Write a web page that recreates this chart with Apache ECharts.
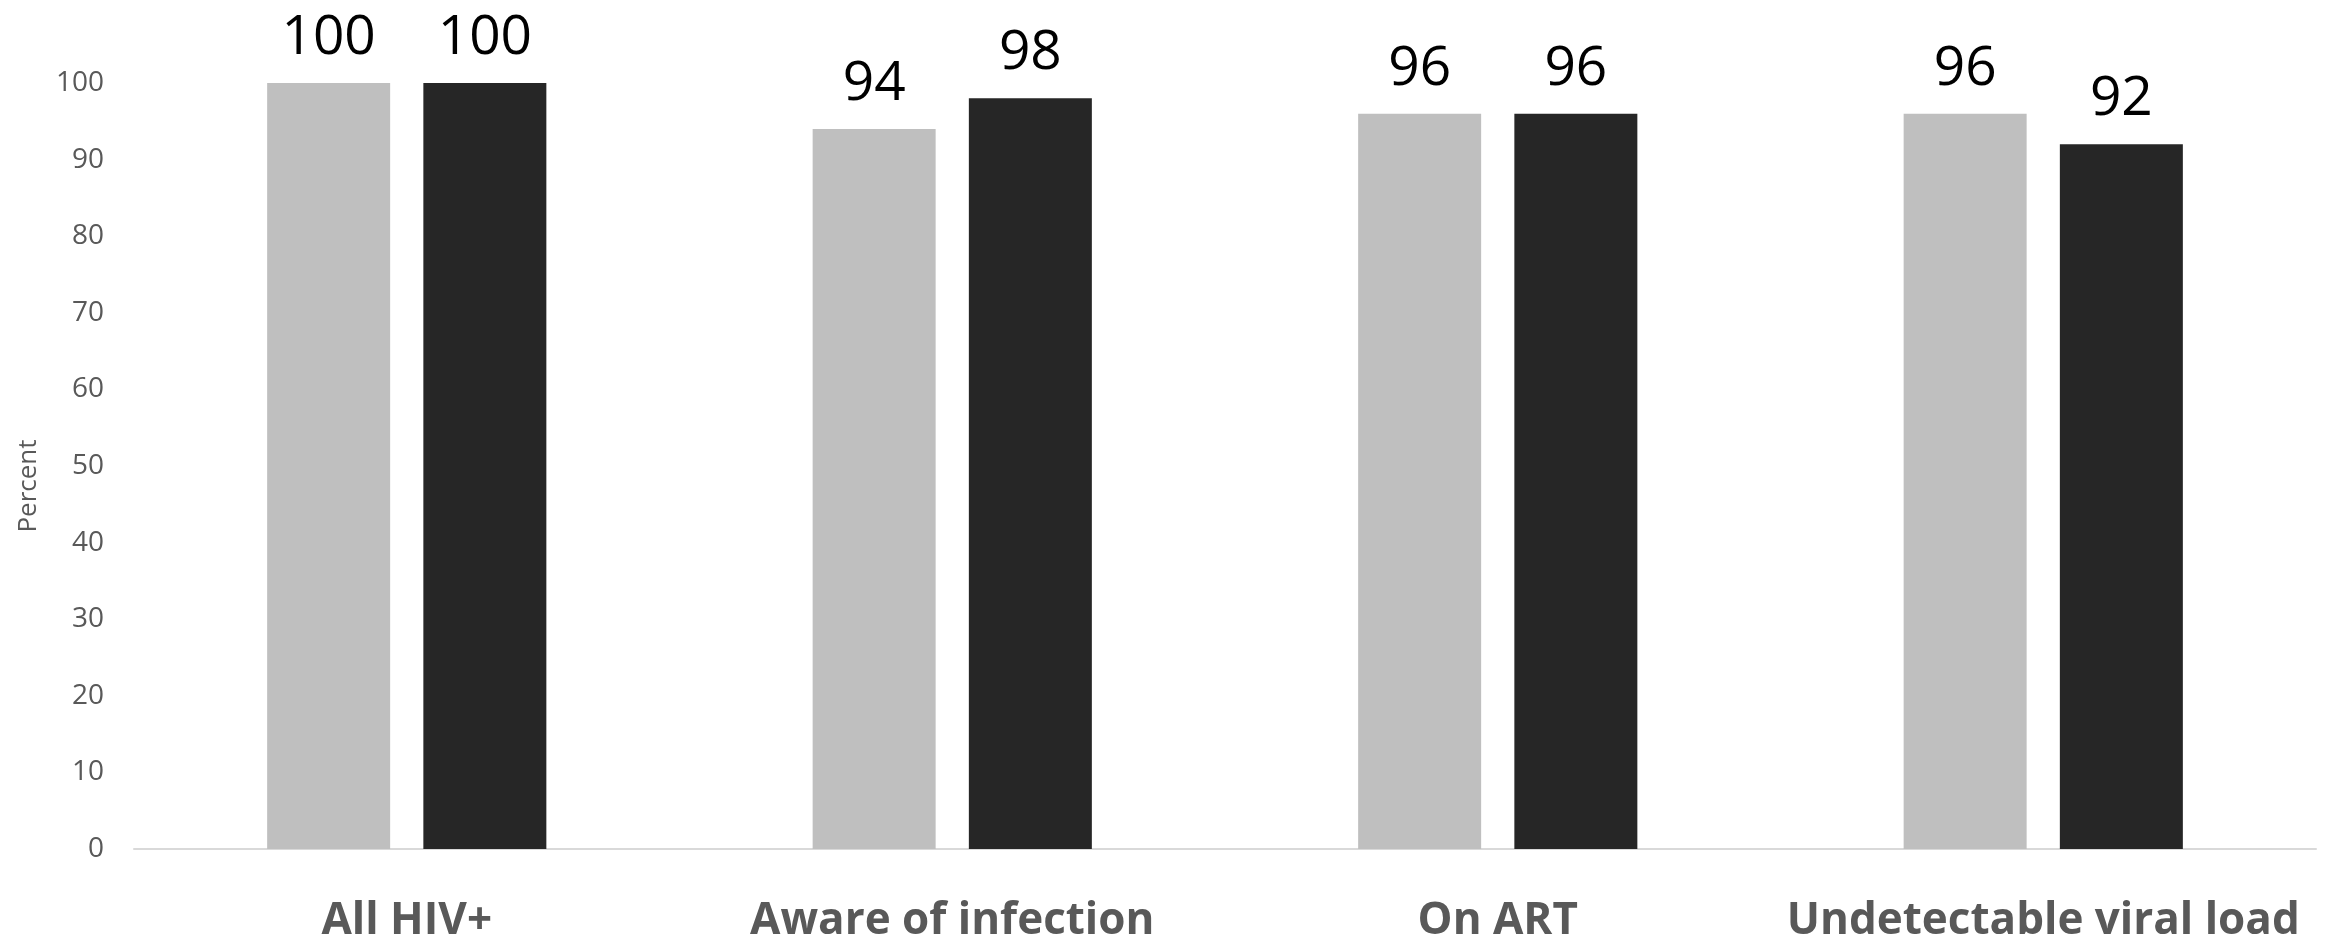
<!DOCTYPE html>
<html>
<head>
<meta charset="utf-8">
<script src="https://cdn.jsdelivr.net/npm/echarts@6/dist/echarts.min.js"></script>
<style>
html,body{margin:0;padding:0;background:#fff;}
#chart{width:2328px;height:940px;}
</style>
</head>
<body>
<div id="chart"></div>
<script>
const categories = ['All HIV+', 'Aware of infection', 'On ART', 'Undetectable viral load'];
const seriesA = [100, 94, 96, 96];
const seriesB = [100, 98, 96, 92];
const yTicks = [0, 10, 20, 30, 40, 50, 60, 70, 80, 90, 100];

const chart = echarts.init(document.getElementById('chart'));
const labelStyle = {
  show: true, position: 'top', distance: 17,
  fontFamily: 'Open Sans', fontSize: 55, color: '#000000'
};
chart.setOption({
  animation: false,
  backgroundColor: '#ffffff',
  grid: { left: 134, right: 12, top: 83, bottom: 91, containLabel: false, outerBoundsMode: 'none' },
  xAxis: {
    type: 'category',
    data: categories,
    axisLine: { show: true, lineStyle: { color: '#D9D9D9', width: 2 } },
    axisTick: { show: false },
    axisLabel: {
      interval: 0, margin: 50,
      fontFamily: 'Open Sans', fontWeight: 'bold', fontSize: 44, color: '#595959'
    }
  },
  yAxis: {
    type: 'value',
    min: yTicks[0], max: yTicks[yTicks.length - 1], interval: 10,
    name: 'Percent', nameLocation: 'middle', nameGap: 92, nameRotate: 90,
    nameTextStyle: { fontFamily: 'Open Sans', fontSize: 26, color: '#595959', padding: [0, 0, 0, -40] },
    axisLine: { show: false },
    axisTick: { show: false },
    splitLine: { show: false },
    axisLabel: { margin: 30, fontFamily: 'Open Sans', fontSize: 28, color: '#595959' }
  },
  series: [
    { name: 'Series 1', type: 'bar', data: seriesA, barWidth: 123, barGap: '27%',
      itemStyle: { color: '#BFBFBF' }, label: labelStyle },
    { name: 'Series 2', type: 'bar', data: seriesB, barWidth: 123, barGap: '27%',
      itemStyle: { color: '#262626' }, label: labelStyle }
  ]
});
</script>
</body>
</html>
